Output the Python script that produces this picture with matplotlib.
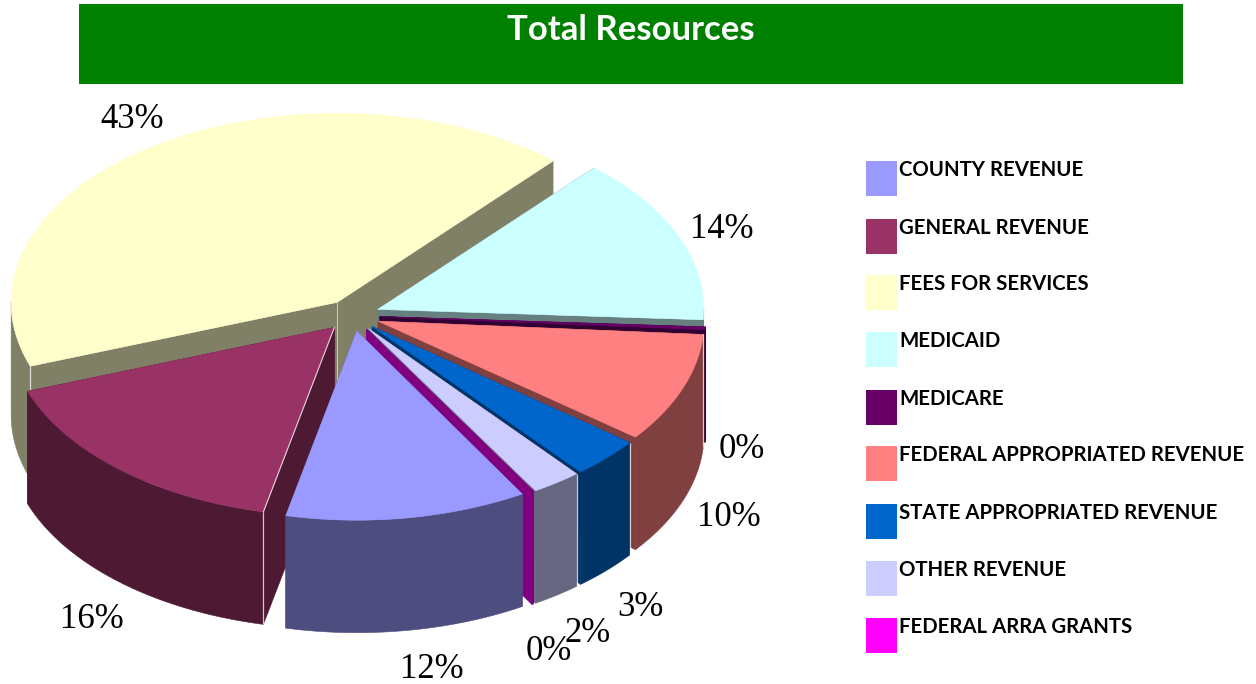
import numpy as np
import matplotlib
matplotlib.use("Agg")
import matplotlib.pyplot as plt
from matplotlib.patches import Polygon, Rectangle

# ---- data ----
categories = ["COUNTY REVENUE", "GENERAL REVENUE", "FEES FOR SERVICES", "MEDICAID", "MEDICARE",
              "FEDERAL APPROPRIATED REVENUE", "STATE APPROPRIATED REVENUE", "OTHER REVENUE",
              "FEDERAL ARRA GRANTS"]
values = [12.1, 16.2, 42.5, 14.5, 0.25, 9.5, 3.49, 2.49, 0.1]
value_labels = ["12%", "16%", "43%", "14%", "0%", "10%", "3%", "2%", "0%"]
top_colors = ["#9999FF", "#993366", "#FFFFCC", "#CCFFFF", "#660066", "#FF8080", "#0066CC", "#CCCCFF", "#800080"]
side_colors = ["#4D4D80", "#4D1933", "#808066", "#668080", "#330033", "#804040", "#003366", "#666680", "#800080"]
legend_colors = ["#9999FF", "#993366", "#FFFFCC", "#CCFFFF", "#660066", "#FF8080", "#0066CC", "#CCCCFF", "#FF00FF"]

# ---- layout ----
W, H = 1256, 684
CX, CY, RX, RY = 352.5, 315.5, 326, 189
DEPTH = 112.5
EXPLODE = 0.084
START = 149.5
draw_order = [2, 3, 4, 5, 1, 6, 7, 8, 0]
corner_lined = [1, 2, 5, 6, 7]
label_pos = [(432, 670), (92, 619), (132, 119), (722, 229), (742, 449),
             (729, 517), (640, 608), (588, 634), (549, 652)]
legend_tops = [161, 219, 275, 332, 390, 446, 504, 561, 618]

fig = plt.figure(figsize=(W / 100, H / 100), dpi=100, facecolor="white")
ax = fig.add_axes([0, 0, 1, 1])
ax.set_xlim(0, W)
ax.set_ylim(H, 0)
ax.axis("off")

ax.add_patch(Rectangle((79, 4), 1104, 80, facecolor="#008000", edgecolor="none"))
ax.text(631, 30, "Total Resources", color="white", fontsize=25, fontweight="bold",
        family="Lato", ha="center", va="center")

vals = np.array(values)
spans = vals / vals.sum() * 360
starts = START + np.concatenate([[0], np.cumsum(spans)[:-1]])


def pt(ox, oy, deg):
    a = np.radians(deg)
    return ox + RX * np.sin(a), oy - RY * np.cos(a)


def fill(xs, ys, color, z):
    ax.add_patch(Polygon(np.column_stack([xs, ys]), closed=True, facecolor=color,
                         edgecolor=color, linewidth=0.4, zorder=z))


z = 2
for i in draw_order:
    s, e = starts[i], starts[i] + spans[i]
    mid = np.radians((s + e) / 2)
    ox = CX + EXPLODE * RX * np.sin(mid)
    oy = CY - EXPLODE * RY * np.cos(mid)
    th = np.linspace(s, e, max(3, int(spans[i] * 2)))
    ax_x, ax_y = pt(ox, oy, th)
    # radial walls
    for k in (0, -1):
        fill([ox, ax_x[k], ax_x[k], ox], [oy, ax_y[k], ax_y[k] + DEPTH, oy + DEPTH], side_colors[i], z)
    # outer wall: only the part of the rim that faces the viewer (90 to 270 degrees, either turn)
    for turn in (0, 360):
        lo, hi = max(s, 90 + turn), min(e, 270 + turn)
        if hi > lo:
            wall_th = np.linspace(lo, hi, max(3, int((hi - lo) * 2)))
            wx, wy = pt(ox, oy, wall_th)
            fill(np.r_[wx, wx[::-1]], np.r_[wy, wy[::-1] + DEPTH], side_colors[i], z + 0.1)
    # top face
    fill(np.r_[ox, ax_x], np.r_[oy, ax_y], top_colors[i], z + 0.2)
    # light corner lines
    if i in corner_lined:
        ax.plot([ax_x[0], ax_x[0]], [ax_y[0], ax_y[0] + DEPTH], color="white", lw=0.9,
                alpha=0.75, zorder=z + 0.3, solid_capstyle="butt")
    if i == 1:
        ax.plot([ax_x[0], ox], [ax_y[0], oy], color="white", lw=0.8, alpha=0.8, zorder=z + 0.3)
    if i == 2:
        ax.plot([ox, ox], [oy, oy + DEPTH], color="#C8C8B0", lw=0.8, zorder=z + 0.3)
        ax.plot([ax_x[-1], ax_x[-1]], [ax_y[-1], ax_y[-1] + DEPTH], color="#C8C8B0", lw=0.8, zorder=z + 0.3)
    z += 1

serif = "Liberation Serif"
for lab, (lx, ly) in zip(value_labels, label_pos):
    ax.text(lx, ly, lab, fontsize=25, family=serif, color="black", ha="center", va="center", zorder=40)

for name, col, top in zip(categories, legend_colors, legend_tops):
    ax.add_patch(Rectangle((866, top), 31, 35, facecolor=col, edgecolor="none", zorder=30))
    ax.text(899, top + 9, name, fontsize=14.7, fontweight="bold", family="Lato", color="black",
            ha="left", va="center", zorder=40)

fig.savefig("out.png", dpi=100, facecolor="white")
